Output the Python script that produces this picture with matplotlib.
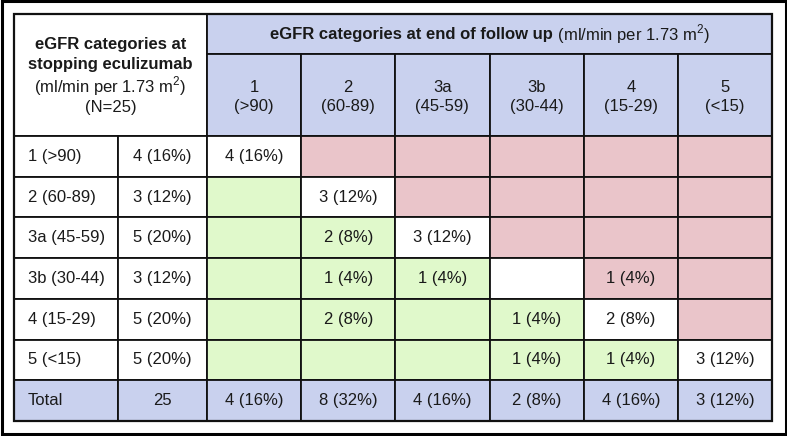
import matplotlib.pyplot as plt
from matplotlib.patches import Rectangle

plt.rcParams['font.family'] = ['Liberation Sans', 'DejaVu Sans']
plt.rcParams['mathtext.fontset'] = 'custom'
plt.rcParams['mathtext.rm'] = 'Liberation Sans'

# data
start_labels = ['1 (>90)', '2 (60-89)', '3a (45-59)', '3b (30-44)', '4 (15-29)', '5 (<15)']
start_counts = ['4 (16%)', '3 (12%)', '5 (20%)', '3 (12%)', '5 (20%)', '5 (20%)']
end_codes = ['1', '2', '3a', '3b', '4', '5']
end_ranges = ['(>90)', '(60-89)', '(45-59)', '(30-44)', '(15-29)', '(<15)']
cells = [
    ['4 (16%)', '', '', '', '', ''],
    ['', '3 (12%)', '', '', '', ''],
    ['', '2 (8%)', '3 (12%)', '', '', ''],
    ['', '1 (4%)', '1 (4%)', '', '1 (4%)', ''],
    ['', '2 (8%)', '', '1 (4%)', '2 (8%)', ''],
    ['', '', '', '1 (4%)', '1 (4%)', '3 (12%)'],
]
total_label = 'Total'
total_n = '25'
end_totals = ['4 (16%)', '8 (32%)', '4 (16%)', '2 (8%)', '4 (16%)', '3 (12%)']

BLUE = '#c9d1ee'
PINK = '#eac5ca'
GREEN = '#e0f9cb'
WHITE = 'white'
LINE = '#111111'
TXT = '#1a1a1a'
FS = 12

W, H = 787, 436
fig = plt.figure(figsize=(W / 100, H / 100), dpi=100)
ax = fig.add_axes([0, 0, 1, 1])
ax.set_xlim(0, W)
ax.set_ylim(H, 0)
ax.axis('off')

# outer frame
ax.add_patch(Rectangle((1.5, 1.5), W - 3, H - 3.5, fill=False, ec='black', lw=2.2))

x0, x1, x2, xr = 14, 118, 207, 772
colw = (xr - x2) / 6
y0, y1, y2 = 14, 54, 136
yb = 421
rowh = (yb - y2) / 7


def cell(x, y, w, h, fc):
    ax.add_patch(Rectangle((x, y), w, h, fc=fc, ec=LINE, lw=1.3))


# header
cell(x0, y0, x2 - x0, y2 - y0, WHITE)
cell(x2, y0, xr - x2, y1 - y0, BLUE)
for j in range(6):
    cx = x2 + j * colw
    cell(cx, y1, colw, y2 - y1, BLUE)
    ax.text(cx + colw / 2, 87, end_codes[j], ha='center', va='center', fontsize=FS, color=TXT)
    ax.text(cx + colw / 2, 106, end_ranges[j], ha='center', va='center', fontsize=FS, color=TXT)

hx = (x0 + x2) / 2
ax.text(hx, 45, 'eGFR categories at', ha='center', va='center', fontsize=FS, fontweight='bold', color=TXT)
ax.text(hx, 65, 'stopping eculizumab', ha='center', va='center', fontsize=FS, fontweight='bold', color=TXT)
ax.text(hx, 86, '(ml/min per 1.73 m$^2$)', ha='center', va='center', fontsize=FS, color=TXT)
ax.text(hx, 107, '(N=25)', ha='center', va='center', fontsize=FS, color=TXT)

# top header mixed bold / normal, centred together
r = fig.canvas.get_renderer()
tb = ax.text(0, 35, 'eGFR categories at end of follow up', ha='left', va='center',
             fontsize=FS, fontweight='bold', color=TXT)
tn = ax.text(0, 34, ' (ml/min per 1.73 m$^2$)', ha='left', va='center', fontsize=FS, color=TXT)
wb = tb.get_window_extent(r).width
wn = tn.get_window_extent(r).width
left = (x2 + xr) / 2 - (wb + wn) / 2
tb.set_x(left)
tn.set_x(left + wb)

# body rows
for i in range(6):
    y = y2 + i * rowh
    cell(x0, y, x1 - x0, rowh, WHITE)
    cell(x1, y, x2 - x1, rowh, WHITE)
    ax.text(28, y + rowh / 2, start_labels[i], ha='left', va='center', fontsize=FS, color=TXT)
    ax.text((x1 + x2) / 2, y + rowh / 2, start_counts[i], ha='center', va='center', fontsize=FS, color=TXT)
    for j in range(6):
        fc = WHITE if i == j else (PINK if j > i else GREEN)
        cx = x2 + j * colw
        cell(cx, y, colw, rowh, fc)
        if cells[i][j]:
            ax.text(cx + colw / 2, y + rowh / 2, cells[i][j], ha='center', va='center', fontsize=FS, color=TXT)

# totals
y = y2 + 6 * rowh
cell(x0, y, x1 - x0, rowh, BLUE)
cell(x1, y, x2 - x1, rowh, BLUE)
ax.text(28, y + rowh / 2, total_label, ha='left', va='center', fontsize=FS, color=TXT)
ax.text((x1 + x2) / 2, y + rowh / 2, total_n, ha='center', va='center', fontsize=FS, color=TXT)
for j in range(6):
    cx = x2 + j * colw
    cell(cx, y, colw, rowh, BLUE)
    ax.text(cx + colw / 2, y + rowh / 2, end_totals[j], ha='center', va='center', fontsize=FS, color=TXT)

ax.add_patch(Rectangle((x0, y0), xr - x0, yb - y0, fill=False, ec=LINE, lw=1.6))

fig.savefig('out.png', dpi=100)
